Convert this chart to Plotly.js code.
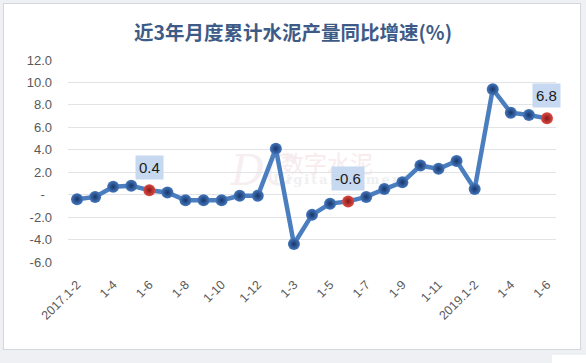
<!DOCTYPE html>
<html>
<head>
<meta charset="utf-8">
<script src="https://cdn.plot.ly/plotly-3.0.1.min.js"></script>
<style>
  html, body { margin:0; padding:0; }
  body { width:586px; height:363px; background:#eef0f4; position:relative; overflow:hidden; }
  #frame { position:absolute; left:3px; top:3px; width:576px; height:345px; background:#ffffff; border:1px solid #d3d8de; }
  #patch { position:absolute; left:552px; top:355px; width:34px; height:8px; background:#ffffff; }
  .wm { position:absolute; white-space:nowrap; line-height:1; }
  #chart { position:absolute; left:0; top:0; width:586px; height:363px; }
</style>
</head>
<body>
<div id="frame"></div>
<div id="patch"></div>
<div class="wm" style="left:231px;top:146px;font:italic 42px 'DejaVu Serif',serif;color:#f6eef0;">DC</div>
<div class="wm" style="left:281px;top:145px;font:23px 'Noto Sans CJK SC',sans-serif;color:#f7ebed;">数字水泥</div>
<div class="wm" style="left:273px;top:172px;font:bold 13px 'DejaVu Serif',serif;letter-spacing:2px;color:#eff0f1;">Digital Cement</div>
<div id="chart"></div>
<script>
// ---- data ----
const categories = [
  '2017.1-2','2017.1-3','2017.1-4','2017.1-5','2017.1-6','2017.1-7','2017.1-8','2017.1-9','2017.1-10','2017.1-11','2017.1-12',
  '2018.1-2','2018.1-3','2018.1-4','2018.1-5','2018.1-6','2018.1-7','2018.1-8','2018.1-9','2018.1-10','2018.1-11','2018.1-12',
  '2019.1-2','2019.1-3','2019.1-4','2019.1-5','2019.1-6'
];
const growth = [
  -0.4, -0.2, 0.7, 0.8, 0.4, 0.2, -0.5, -0.5, -0.5, -0.1, -0.1,
  4.1, -4.4, -1.8, -0.8, -0.6, -0.2, 0.5, 1.1, 2.6, 2.3, 3.0,
  0.5, 9.4, 7.3, 7.1, 6.8
];
const highlightCats = ['2017.1-6', '2018.1-6', '2019.1-6'];
const tickCats = ['2017.1-2','2017.1-4','2017.1-6','2017.1-8','2017.1-10','2017.1-12',
                  '2018.1-3','2018.1-5','2018.1-7','2018.1-9','2018.1-11',
                  '2019.1-2','2019.1-4','2019.1-6'];
const tickText = ['2017.1-2','1-4','1-6','1-8','1-10','1-12','1-3','1-5','1-7','1-9','1-11','2019.1-2','1-4','1-6'];
const yTickVals = [-6, -4, -2, 0, 2, 4, 6, 8, 10, 12];
const yTickText = ['-6.0', '-4.0', '-2.0', '-\u00a0\u00a0', '2.0', '4.0', '6.0', '8.0', '10.0', '12.0'];
const titleText = '近3年月度累计水泥产量同比增速(%)';

// ---- styling ----
const isHi = categories.map(c => highlightCats.includes(c));
const trace = {
  x: categories,
  y: growth,
  type: 'scatter',
  mode: 'lines+markers',
  line: { color: '#4a7ebf', width: 4.5 },
  marker: {
    size: 12,
    color: isHi.map(h => h ? '#dd4a44' : '#4478bd'),
    gradient: { type: 'radial', color: isHi.map(h => h ? '#861818' : '#17356a') },
    line: { width: 0 }
  },
  hoverinfo: 'x+y'
};

const annotations = highlightCats.map(c => {
  const v = growth[categories.indexOf(c)];
  return {
    x: c, y: v, xref: 'x', yref: 'y',
    text: v.toFixed(1),
    showarrow: false,
    yshift: 23,
    bgcolor: '#c6d9f1',
    borderpad: 3,
    font: { family: 'Liberation Sans, Arial, sans-serif', size: 15, color: '#1a1a1a' }
  };
});

const layout = {
  width: 586, height: 363,
  margin: { l: 68, r: 30, t: 60, b: 101, pad: 0 },
  paper_bgcolor: 'rgba(0,0,0,0)',
  plot_bgcolor: 'rgba(0,0,0,0)',
  showlegend: false,
  title: {
    text: '<b>' + titleText + '</b>',
    x: 293 / 586, xref: 'container', xanchor: 'center',
    y: 1 - 33.5 / 363, yref: 'container', yanchor: 'middle',
    font: { family: 'Noto Sans CJK SC, sans-serif', size: 19.5, color: '#3e5b87' }
  },
  xaxis: {
    type: 'category',
    categoryorder: 'array', categoryarray: categories,
    range: [-0.5, categories.length - 0.5],
    tickmode: 'array', tickvals: tickCats, ticktext: tickText,
    tickangle: -45,
    ticklabelstandoff: 12,
    showgrid: false, zeroline: false, showline: false, ticks: '',
    tickfont: { family: 'Liberation Sans, Arial, sans-serif', size: 12.5, color: '#595959' },
    fixedrange: true
  },
  yaxis: {
    range: [-6, 12],
    tickmode: 'array', tickvals: yTickVals, ticktext: yTickText,
    showgrid: true, gridcolor: '#e1e3e6', gridwidth: 1,
    zeroline: false, showline: false, ticks: '',
    ticklabelstandoff: 15,
    tickfont: { family: 'Liberation Sans, Arial, sans-serif', size: 13, color: '#595959' },
    fixedrange: true
  },
  annotations: annotations
};

Plotly.newPlot('chart', [trace], layout, { displayModeBar: false, staticPlot: true });
</script>
</body>
</html>
